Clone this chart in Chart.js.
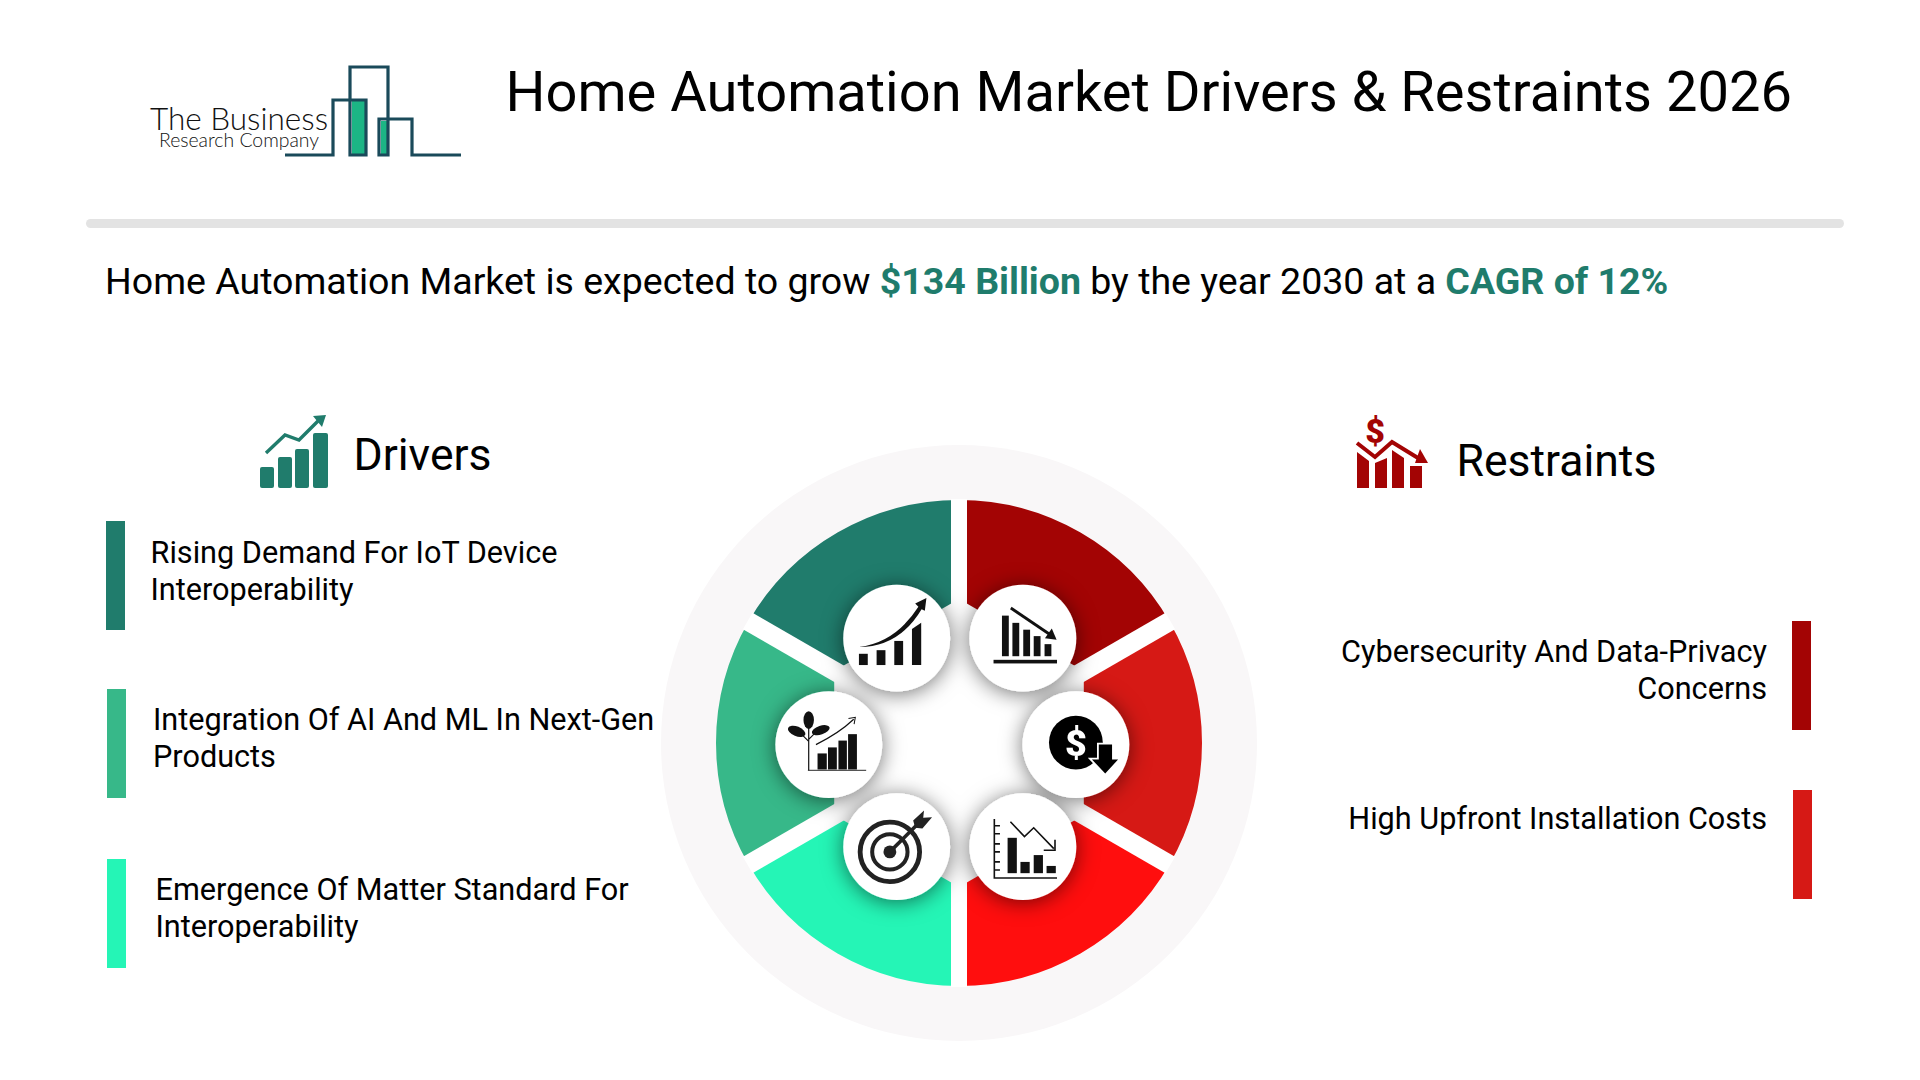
<!DOCTYPE html>
<html>
<head>
<meta charset="utf-8">
<title>Home Automation Market Drivers & Restraints 2026</title>
<script src="https://cdn.jsdelivr.net/npm/chart.js@4/dist/chart.umd.min.js"></script>
<style>
    body { margin: 0; background: #fff; font-family: Roboto, sans-serif; color: #000; }
    #page { position: relative; width: 1920px; height: 1080px; overflow: hidden; }
    #page > * { position: absolute; }
    #title { left: 505.5px; top: 56px; font-size: 56.05px; line-height: 72px; white-space: nowrap; }
    #rule { left: 86px; top: 218.5px; width: 1758px; height: 9.5px; border-radius: 5px; background: #e3e3e3; }
    #subtitle { left: 105px; top: 259px; font-size: 37.5px; line-height: 44px; white-space: nowrap; }
    #subtitle b { color: #1f7c6c; font-weight: 700; }
    .heading { font-size: 44.5px; line-height: 52px; white-space: nowrap; }
    .item { font-size: 30.65px; line-height: 37px; white-space: pre; }
    .bar { width: 19px; height: 109px; }
    #disc { left: 661px; top: 445px; width: 596px; height: 596px; border-radius: 50%; background: #f9f7f8; }
    #wheel { left: 639px; top: 423px; width: 640px; height: 640px; }
    #wheel canvas { display: block; }
    #icons { left: 650px; top: 430px; width: 630px; height: 630px; }
    .logo1 { font-family: Lato, sans-serif; font-weight: 300; color: #111; white-space: nowrap; }
</style>
</head>
<body>
<div id="page">
    <!-- logo -->
    <svg style="left:0;top:0" width="520" height="180">
        <rect x="352" y="100" width="14" height="55" fill="#1cb585"/>
        <rect x="381" y="121" width="6" height="34" fill="#1cb585"/>
        <path d="M285 155H333V100H366V155H350V67H388V155H379V119H412V155H461" fill="none" stroke="#1a4a5a" stroke-width="3.2"/>
    </svg>
    <div class="logo1" style="left:150px;top:103px;font-size:31.5px;line-height:30px">The Business</div>
    <div class="logo1" style="left:159px;top:131px;font-size:19.4px;line-height:17px">Research Company</div>

    <div id="title">Home Automation Market Drivers &amp; Restraints 2026</div>
    <div id="rule"></div>
    <div id="subtitle">Home Automation Market is expected to grow <b>$134 Billion</b> by the year 2030 at a <b>CAGR of 12%</b></div>

    <!-- section icons -->
    <svg style="left:250px;top:405px" width="90" height="90" viewBox="250 405 90 90" fill="#207c6c">
        <rect x="260" y="467" width="14" height="21" rx="2"/>
        <rect x="278" y="457" width="14" height="31" rx="2"/>
        <rect x="295" y="449" width="14" height="39" rx="2"/>
        <rect x="313" y="433" width="15" height="55" rx="2"/>
        <path d="M266 453L285 435L299 440L318 421" fill="none" stroke="#207c6c" stroke-width="3.4"/>
        <path d="M313 416L326 415L322 427Z"/>
    </svg>
    <div class="heading" style="left:353.5px;top:429px">Drivers</div>

    <svg style="left:1350px;top:410px" width="90" height="90" viewBox="1350 410 90 90" fill="#a30404">
        <text x="1375" y="443" font-family="Roboto" font-weight="900" font-size="34" text-anchor="middle">$</text>
        <path d="M1357 452L1369 461V488H1357Z"/>
        <path d="M1375 463L1387 458V488H1375Z"/>
        <path d="M1392 450L1404 458V488H1392Z"/>
        <path d="M1410 466H1422V488H1410Z"/>
        <path d="M1357 443L1375 457L1392 442L1418 458" fill="none" stroke="#a30404" stroke-width="4"/>
        <path d="M1428 463L1415 463L1420 449Z"/>
    </svg>
    <div class="heading" style="left:1456.5px;top:434.5px">Restraints</div>

    <!-- item bars, text filled in from the arrays below -->
    <div class="bar" style="left:106px;top:520.5px;background:#207c6c"></div>
    <div class="bar" style="left:107px;top:689px;background:#37b889"></div>
    <div class="bar" style="left:107px;top:859px;background:#25f5b6"></div>
    <div class="bar" style="left:1791.5px;top:620.5px;background:#a30404"></div>
    <div class="bar" style="left:1792.5px;top:790px;background:#d61915"></div>

    <div class="item" id="driver0" style="left:150.5px;top:533.5px"></div>
    <div class="item" id="driver1" style="left:153px;top:701px"></div>
    <div class="item" id="driver2" style="left:155.5px;top:871px"></div>
    <div class="item" id="restraint0" style="right:153px;top:632.5px;text-align:right"></div>
    <div class="item" id="restraint1" style="right:153px;top:800px;text-align:right"></div>

    <div id="disc"></div>
    <div id="wheel"><canvas id="wheelChart" width="640" height="640"></canvas></div>

    <!-- white badges and pictograms on top of the wheel -->
    <svg id="icons" viewBox="0 0 1568 1568">
        <defs>
            <filter id="soft" x="-50%" y="-50%" width="200%" height="200%">
                <feDropShadow dx="0" dy="6" stdDeviation="27" flood-color="#000" flood-opacity="0.55"/>
            </filter>
        </defs>
        <g fill="#fff" filter="url(#soft)">
            <circle cx="614" cy="518" r="133"/>
            <circle cx="928" cy="518" r="133"/>
            <circle cx="1060" cy="783" r="133"/>
            <circle cx="928" cy="1037" r="133"/>
            <circle cx="614" cy="1037" r="133"/>
            <circle cx="445" cy="783" r="133"/>
        </g>
        <g fill="#111">
            <!-- growth -->
            <rect x="520" y="557" width="22" height="28"/>
            <rect x="564" y="548" width="22" height="37"/>
            <rect x="608" y="525" width="22" height="60"/>
            <path d="M652 495L675 480V585H652Z"/>
            <path d="M520 540Q610 530 668 440L660 432L688 418L684 450L676 446Q620 540 520 540Z"/>
            <!-- falling bars -->
            <rect x="876" y="462" width="17" height="101"/>
            <rect x="902" y="480" width="17" height="83"/>
            <rect x="929" y="497" width="17" height="66"/>
            <rect x="955" y="513" width="17" height="50"/>
            <rect x="982" y="533" width="17" height="30"/>
            <rect x="855" y="572" width="158" height="9"/>
            <path d="M898 443L1000 512" stroke="#111" stroke-width="7" fill="none"/>
            <path d="M1012 522L983 518L1000 494Z"/>
            <!-- coin -->
            <circle cx="1060" cy="778" r="67" fill="#000"/>
            <text x="1060" y="812" font-family="Roboto" font-weight="900" font-size="94" text-anchor="middle" fill="#fff">$</text>
            <path d="M1117 783H1150V820H1165L1133 855L1100 820H1117Z" fill="#000" stroke="#fff" stroke-width="9" paint-order="stroke"/>
            <!-- down chart -->
            <rect x="890" y="1015" width="23" height="88"/>
            <rect x="922" y="1075" width="23" height="28"/>
            <rect x="955" y="1058" width="23" height="45"/>
            <rect x="987" y="1085" width="23" height="18"/>
            <path d="M857 968V1115H1013M857 985H871M857 1005H871M857 1030H871M857 1050H871M857 1075H871M857 1095H871" fill="none" stroke="#111" stroke-width="4"/>
            <path d="M897 975L932 1012L955 990L1005 1042M1008 1020V1046H980" fill="none" stroke="#111" stroke-width="4"/>
            <!-- target -->
            <circle cx="597" cy="1050" r="74" fill="none" stroke="#222" stroke-width="12"/>
            <circle cx="597" cy="1050" r="44" fill="none" stroke="#222" stroke-width="10"/>
            <circle cx="597" cy="1050" r="16" fill="#222"/>
            <path d="M597 1050L672 975" stroke="#222" stroke-width="9"/>
            <path d="M655 972L682 947L680 965L702 964L678 992L660 990Z" fill="#222"/>
            <!-- plant and bars -->
            <rect x="417" y="805" width="23" height="40"/>
            <rect x="443" y="790" width="22" height="55"/>
            <rect x="469" y="773" width="21" height="72"/>
            <rect x="493" y="757" width="22" height="88"/>
            <path d="M393 847H538" stroke="#555" stroke-width="3"/>
            <path d="M395 847V740M395 775L370 750M395 770L420 745" stroke="#111" stroke-width="3" fill="none"/>
            <ellipse cx="395" cy="722" rx="13" ry="22"/>
            <ellipse cx="365" cy="750" rx="23" ry="12" transform="rotate(22 365 750)"/>
            <ellipse cx="425" cy="747" rx="23" ry="11" transform="rotate(-18 425 747)"/>
            <path d="M413 783Q470 755 507 720" stroke="#111" stroke-width="3" fill="none"/>
            <path d="M494 718L511 715L508 732" stroke="#111" stroke-width="2.5" fill="none"/>
        </g>
    </svg>
</div>

<script>
    const drivers = ['Rising Demand For IoT Device\nInteroperability', 'Integration Of AI And ML In Next-Gen\nProducts', 'Emergence Of Matter Standard For\nInteroperability'];
    const restraints = ['Cybersecurity And Data-Privacy\nConcerns', 'High Upfront Installation Costs'];

    // wheel, clockwise from 12 o'clock
    const sliceLabels = ['Cybersecurity And Data-Privacy Concerns', 'High Upfront Installation Costs', '', 'Emergence Of Matter Standard For Interoperability', 'Integration Of AI And ML In Next-Gen Products', 'Rising Demand For IoT Device Interoperability'];
    const sliceValues = [1, 1, 1, 1, 1, 1];
    const sliceColors = ['#a30404', '#d61915', '#ff0e0e', '#25f5b6', '#37b889', '#207c6c'];

    drivers.forEach((t, i) => { document.getElementById('driver' + i).textContent = t; });
    restraints.forEach((t, i) => { document.getElementById('restraint' + i).textContent = t; });

    // white gaps and the hexagon in the middle, placed from the arc angles
    const wheelCutouts = {
        id: 'wheelCutouts',
        afterDatasetsDraw(chart) {
            const arcs = chart.getDatasetMeta(0).data;
            const ctx = chart.ctx;
            const cx = arcs[0].x, cy = arcs[0].y, r = arcs[0].outerRadius;
            const hexR = r * 0.593;
            ctx.save();
            ctx.strokeStyle = '#fff';
            ctx.fillStyle = '#fff';
            arcs.forEach(a => {
                // the slanted gaps are a little wider than the vertical one
                ctx.lineWidth = Math.abs(Math.cos(a.startAngle)) < 0.01 ? 16 : 19;
                ctx.beginPath();
                ctx.moveTo(cx, cy);
                ctx.lineTo(cx + Math.cos(a.startAngle) * (r + 1), cy + Math.sin(a.startAngle) * (r + 1));
                ctx.stroke();
            });
            ctx.beginPath();
            arcs.forEach((a, i) => {
                const px = cx + Math.cos(a.startAngle) * hexR, py = cy + Math.sin(a.startAngle) * hexR;
                if (i === 0) ctx.moveTo(px, py); else ctx.lineTo(px, py);
            });
            ctx.closePath();
            ctx.fill();
            ctx.restore();
        }
    };

    new Chart(document.getElementById('wheelChart'), {
        type: 'doughnut',
        data: {
            labels: sliceLabels,
            datasets: [{ data: sliceValues, backgroundColor: sliceColors, borderWidth: 0 }]
        },
        options: {
            responsive: false,
            animation: false,
            cutout: 80,
            layout: { padding: 77 },
            plugins: { legend: { display: false }, tooltip: { enabled: false } }
        },
        plugins: [wheelCutouts]
    });
</script>
</body>
</html>
